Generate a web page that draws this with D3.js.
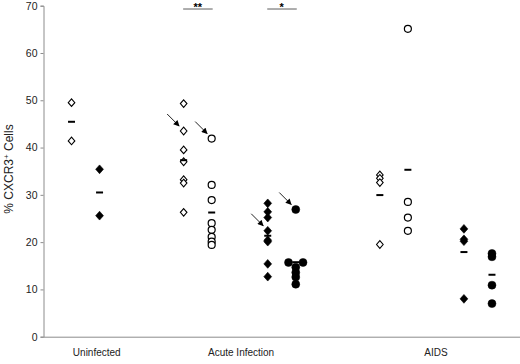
<!DOCTYPE html>
<html>
<head>
<meta charset="utf-8">
<script src="https://cdn.jsdelivr.net/npm/d3@7"></script>
<style>
  html, body { margin: 0; padding: 0; background: #fff; }
  svg { display: block; font-family: "Liberation Sans", Arial, sans-serif; }
</style>
</head>
<body>
<svg id="chart" width="520" height="364"></svg>
<script>
// ---- data ----
const categories = ["Uninfected", "Acute Infection", "AIDS"];
const categoryTickX = [1.9, 7.05, 14.0];
const yTicks = [0, 10, 20, 30, 40, 50, 60, 70];

// series: column index on the numeric x axis, marker type, values
const uninfectedOpenDiamond = [49.5, 41.4];
const uninfectedFilledDiamond = [35.4, 25.6];
const acuteOpenDiamond = [49.3, 43.5, 39.5, 37.0, 33.2, 32.5, 26.3];
const acuteOpenCircle = [41.9, 32.1, 28.9, 24.0, 22.6, 21.1, 20.1, 19.4];
const acuteFilledDiamond = [28.2, 26.4, 25.2, 22.4, 20.4, 20.1, 15.4, 12.7];
const acuteFilledCircle = [26.9, 15.7, 15.7, 14.7, 13.6, 12.6, 11.1];
const aidsOpenDiamond = [34.2, 33.5, 32.6, 19.5];
const aidsOpenCircle = [65.1, 28.5, 25.2, 22.4];
const aidsFilledDiamond = [22.8, 20.6, 20.2, 8.0];
const aidsFilledCircle = [17.6, 16.9, 10.9, 7.0];

const series = [
  { col: 1,  marker: "openDiamond",   values: uninfectedOpenDiamond },
  { col: 2,  marker: "filledDiamond", values: uninfectedFilledDiamond },
  { col: 5,  marker: "openDiamond",   values: acuteOpenDiamond },
  { col: 6,  marker: "openCircle",    values: acuteOpenCircle },
  { col: 8,  marker: "filledDiamond", values: acuteFilledDiamond },
  { col: 9,  marker: "filledCircle",  values: acuteFilledCircle },
  { col: 12, marker: "openDiamond",   values: aidsOpenDiamond },
  { col: 13, marker: "openCircle",    values: aidsOpenCircle },
  { col: 15, marker: "filledDiamond", values: aidsFilledDiamond },
  { col: 16, marker: "filledCircle",  values: aidsFilledCircle }
];

// significance brackets (column span) and arrows (column, value)
const significance = [
  { from: 5, to: 6, label: "**" },
  { from: 8, to: 9, label: "*" }
];
const sigLevel = 69.3;
const arrowTargets = [
  { col: 5, value: 43.5 },
  { col: 6, value: 41.9 },
  { col: 8, value: 22.4 },
  { col: 9, value: 26.9 }
];

// ---- drawing ----
const svg = d3.select("#chart");
const x = d3.scaleLinear().domain([0, 17]).range([43.5, 520]);
const y = d3.scaleLinear().domain([0, 70]).range([336.7, 5.7]);
const axisColor = "#8c8c8c";

// y axis
const yAxis = svg.append("g")
  .attr("transform", `translate(${x(0)},0)`)
  .call(d3.axisLeft(y).tickValues(yTicks).tickSize(3).tickPadding(3).tickFormat(d3.format("d")));
yAxis.select(".domain").attr("stroke", axisColor).attr("stroke-width", 1);
yAxis.selectAll(".tick line").attr("stroke", axisColor);
yAxis.selectAll(".tick text")
  .attr("fill", "#222")
  .style("font-size", "10.5px")
  .style("font-family", "Liberation Sans, Arial, sans-serif");

// x axis line (no ticks)
const xAxis = svg.append("g")
  .attr("transform", `translate(0,${y(0)})`)
  .call(d3.axisBottom(x).tickValues([]).tickSize(0).tickSizeOuter(0));
xAxis.select(".domain").attr("stroke", axisColor).attr("stroke-width", 1);

// category labels
svg.append("g").selectAll("text")
  .data(categories)
  .join("text")
  .attr("x", (d, i) => x(categoryTickX[i]))
  .attr("y", 356)
  .attr("text-anchor", "middle")
  .attr("fill", "#222")
  .style("font-size", "10px")
  .text(d => d);

// y axis title
const yTitle = svg.append("text")
  .attr("transform", "translate(13,169) rotate(-90)")
  .attr("text-anchor", "middle")
  .attr("fill", "#222")
  .style("font-size", "12px");
yTitle.append("tspan").text("% CXCR3");
yTitle.append("tspan").attr("baseline-shift", "super").style("font-size", "8px").text("+");
yTitle.append("tspan").text(" Cells");

// markers
function diamondPath(w, h) {
  return `M0,${-h}L${w},0L0,${h}L${-w},0Z`;
}
const markerStyle = {
  openDiamond:   { path: diamondPath(3.3, 3.8), fill: "#fff", stroke: "#000", sw: 1.1 },
  filledDiamond: { path: diamondPath(3.9, 4.4), fill: "#000", stroke: "#000", sw: 0.6 },
  openCircle:    { circle: 3.5, fill: "#fff", stroke: "#000", sw: 1.2 },
  filledCircle:  { circle: 4.0, fill: "#000", stroke: "#000", sw: 0.5 }
};

const dodgeSpacing = 14.5;
const points = [];
series.forEach(s => {
  const counts = d3.rollup(s.values, v => v.length, d => d);
  const seen = new Map();
  s.values.forEach(v => {
    const n = counts.get(v);
    const k = seen.get(v) || 0;
    seen.set(v, k + 1);
    const offset = (k - (n - 1) / 2) * dodgeSpacing;
    points.push({ col: s.col, marker: s.marker, value: v, dx: offset });
  });
});

const markG = svg.append("g");
points.forEach(p => {
  const st = markerStyle[p.marker];
  const cx = x(p.col) + p.dx, cy = y(p.value);
  if (st.circle) {
    markG.append("circle").attr("cx", cx).attr("cy", cy).attr("r", st.circle)
      .attr("fill", st.fill).attr("stroke", st.stroke).attr("stroke-width", st.sw);
  } else {
    markG.append("path").attr("d", st.path).attr("transform", `translate(${cx},${cy})`)
      .attr("fill", st.fill).attr("stroke", st.stroke).attr("stroke-width", st.sw);
  }
});

// mean bars
svg.append("g").selectAll("line")
  .data(series)
  .join("line")
  .attr("x1", d => x(d.col) - 3.5)
  .attr("x2", d => x(d.col) + 3.5)
  .attr("y1", d => y(d3.mean(d.values)))
  .attr("y2", d => y(d3.mean(d.values)))
  .attr("stroke", "#000")
  .attr("stroke-width", 2);

// significance brackets
const sigG = svg.append("g");
significance.forEach(s => {
  sigG.append("line")
    .attr("x1", x(s.from) - 0.5).attr("x2", x(s.to) + 1)
    .attr("y1", y(sigLevel)).attr("y2", y(sigLevel))
    .attr("stroke", "#777").attr("stroke-width", 1.2);
  sigG.append("text")
    .attr("x", (x(s.from) + x(s.to)) / 2)
    .attr("y", y(sigLevel) + 2)
    .attr("text-anchor", "middle")
    .attr("fill", "#000")
    .style("font-size", "11px")
    .style("font-weight", "bold")
    .text(s.label);
});

// arrows
svg.append("defs").append("marker")
  .attr("id", "ah")
  .attr("viewBox", "0 0 10 10")
  .attr("refX", 9).attr("refY", 5)
  .attr("markerWidth", 7).attr("markerHeight", 6)
  .attr("markerUnits", "userSpaceOnUse")
  .attr("orient", "auto")
  .append("path").attr("d", "M0,0L10,5L0,10Z").attr("fill", "#000");

svg.append("g").selectAll("line")
  .data(arrowTargets)
  .join("line")
  .attr("x1", d => x(d.col) - 16.5)
  .attr("y1", d => y(d.value) - 17)
  .attr("x2", d => x(d.col) - 4.5)
  .attr("y2", d => y(d.value) - 5)
  .attr("stroke", "#222")
  .attr("stroke-width", 1)
  .attr("marker-end", "url(#ah)");
</script>
</body>
</html>
